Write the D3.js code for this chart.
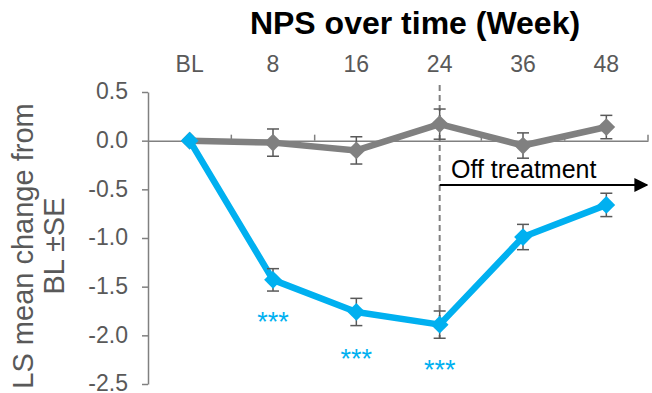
<!DOCTYPE html>
<html>
<head>
<meta charset="utf-8">
<script src="https://cdn.jsdelivr.net/npm/d3@7"></script>
<style>
  body { margin: 0; background: #fff; }
  svg { font-family: 'Liberation Sans', Arial, sans-serif; }
</style>
</head>
<body>
<div id="chart"></div>
<script>
const weeks = ['BL', '8', '16', '24', '36', '48'];
const placeboMean = [0, -0.02, -0.1, 0.17, -0.05, 0.14];
const placeboSE = [0, 0.14, 0.14, 0.155, 0.13, 0.12];
const activeMean = [0, -1.43, -1.76, -1.89, -0.99, -0.66];
const activeSE = [0, 0.115, 0.14, 0.14, 0.13, 0.12];
const starWeeks = ['8', '16', '24'];
const starValues = [-1.96, -2.34, -2.45];
const yTicks = [0.5, 0, -0.5, -1, -1.5, -2, -2.5];

const width = 652;
const height = 393;
const fontFam = "'Liberation Sans', Arial, sans-serif";

const svg = d3.select('#chart')
  .append('svg')
  .attr('width', width)
  .attr('height', height);

const x = d3.scaleBand().domain(weeks).range([148, 648]);
const y = d3.scaleLinear().domain([-2.5, 0.5]).range([384, 92]);
const cx = (w) => x(w) + x.bandwidth() / 2;

// title
svg.append('text')
  .attr('x', 415)
  .attr('y', 34)
  .attr('text-anchor', 'middle')
  .style('font-size', '32px')
  .style('font-weight', 700)
  .text('NPS over time (Week)');

// category labels along the top
svg.selectAll('.cat')
  .data(weeks)
  .enter()
  .append('text')
  .attr('x', (d) => cx(d))
  .attr('y', 72)
  .attr('text-anchor', 'middle')
  .style('font-size', '23px')
  .attr('fill', '#595959')
  .text((d) => d);

// y axis
const yAxis = d3.axisLeft(y)
  .tickValues(yTicks)
  .tickFormat((d) => d3.format('.1f')(d).replace('−', '-'))
  .tickSize(6)
  .tickSizeOuter(0);

const yg = svg.append('g')
  .attr('transform', 'translate(148,0)')
  .call(yAxis);
yg.select('.domain').attr('stroke', '#808080').attr('stroke-width', 1.5);
yg.selectAll('.tick line').attr('stroke', '#808080').attr('stroke-width', 1.5);
yg.selectAll('.tick text')
  .attr('fill', '#595959')
  .attr('x', -20)
  .attr('dy', '0.3em')
  .style('font-size', '23px')
  .style('font-family', fontFam);

// x axis sitting on zero, ticks point upward
const xAxis = d3.axisTop(x).tickValues([]).tickSizeOuter(0);
const xg = svg.append('g')
  .attr('transform', `translate(0,${y(0)})`)
  .call(xAxis);
xg.select('.domain').attr('stroke', '#808080').attr('stroke-width', 1.5);
xg.selectAll('.sep')
  .data(weeks.map((w) => x(w) + x.bandwidth()))
  .enter()
  .append('line')
  .attr('x1', (d) => d)
  .attr('x2', (d) => d)
  .attr('y1', 0)
  .attr('y2', -6)
  .attr('stroke', '#808080')
  .attr('stroke-width', 1.5);

// y axis title
const yTitle = svg.append('text')
  .attr('transform', 'translate(0,246) rotate(-90)')
  .attr('text-anchor', 'middle')
  .style('font-size', '29px')
  .attr('fill', '#595959');
yTitle.append('tspan').attr('x', 0).attr('y', 33).text('LS mean change from');
yTitle.append('tspan').attr('x', 0).attr('y', 64).text('BL ±SE');

// dashed line at week 24
svg.append('line')
  .attr('x1', cx('24'))
  .attr('x2', cx('24'))
  .attr('y1', 85)
  .attr('y2', 338)
  .attr('stroke', '#808080')
  .attr('stroke-width', 2)
  .attr('stroke-dasharray', '6,4');

// off treatment arrow
svg.append('defs')
  .append('marker')
  .attr('id', 'arrow')
  .attr('viewBox', '0 0 10 10')
  .attr('refX', 9)
  .attr('refY', 5)
  .attr('markerWidth', 7)
  .attr('markerHeight', 7)
  .attr('markerUnits', 'strokeWidth')
  .attr('orient', 'auto')
  .append('path')
  .attr('d', 'M0,0 L10,5 L0,10 Z')
  .attr('fill', '#000');

svg.append('line')
  .attr('x1', cx('24'))
  .attr('x2', 647)
  .attr('y1', 185)
  .attr('y2', 185)
  .attr('stroke', '#000')
  .attr('stroke-width', 2)
  .attr('marker-end', 'url(#arrow)');

svg.append('text')
  .attr('x', 451)
  .attr('y', 178)
  .style('font-size', '25px')
  .attr('fill', '#000')
  .text('Off treatment');

function drawSeries(means, ses, color) {
  const pts = weeks.map((w, i) => ({ w, m: means[i], se: ses[i] }));
  const line = d3.line().x((d) => cx(d.w)).y((d) => y(d.m));
  svg.append('path')
    .datum(pts)
    .attr('d', line)
    .attr('fill', 'none')
    .attr('stroke', color)
    .attr('stroke-width', 6.5)
    .attr('stroke-linejoin', 'round');

  const eb = svg.append('g')
    .selectAll('g')
    .data(pts.filter((d) => d.se > 0))
    .enter()
    .append('g')
    .attr('stroke', '#595959')
    .attr('stroke-width', 1.5);
  eb.append('line')
    .attr('x1', (d) => cx(d.w)).attr('x2', (d) => cx(d.w))
    .attr('y1', (d) => y(d.m + d.se)).attr('y2', (d) => y(d.m - d.se));
  [1, -1].forEach((s) => {
    eb.append('line')
      .attr('x1', (d) => cx(d.w) - 6).attr('x2', (d) => cx(d.w) + 6)
      .attr('y1', (d) => y(d.m + s * d.se)).attr('y2', (d) => y(d.m + s * d.se));
  });

  svg.append('g')
    .selectAll('path')
    .data(pts)
    .enter()
    .append('path')
    .attr('d', d3.symbol().type(d3.symbolDiamond2).size(200))
    .attr('transform', (d) => `translate(${cx(d.w)},${y(d.m)})`)
    .attr('fill', color);
}

drawSeries(placeboMean, placeboSE, '#808080');
drawSeries(activeMean, activeSE, '#00B0F0');

// significance markers
svg.selectAll('.star')
  .data(starWeeks)
  .enter()
  .append('text')
  .attr('x', (d) => cx(d))
  .attr('y', (d, i) => y(starValues[i]))
  .attr('text-anchor', 'middle')
  .style('font-size', '27px')
  .attr('fill', '#00B0F0')
  .text('***');
</script>
</body>
</html>
